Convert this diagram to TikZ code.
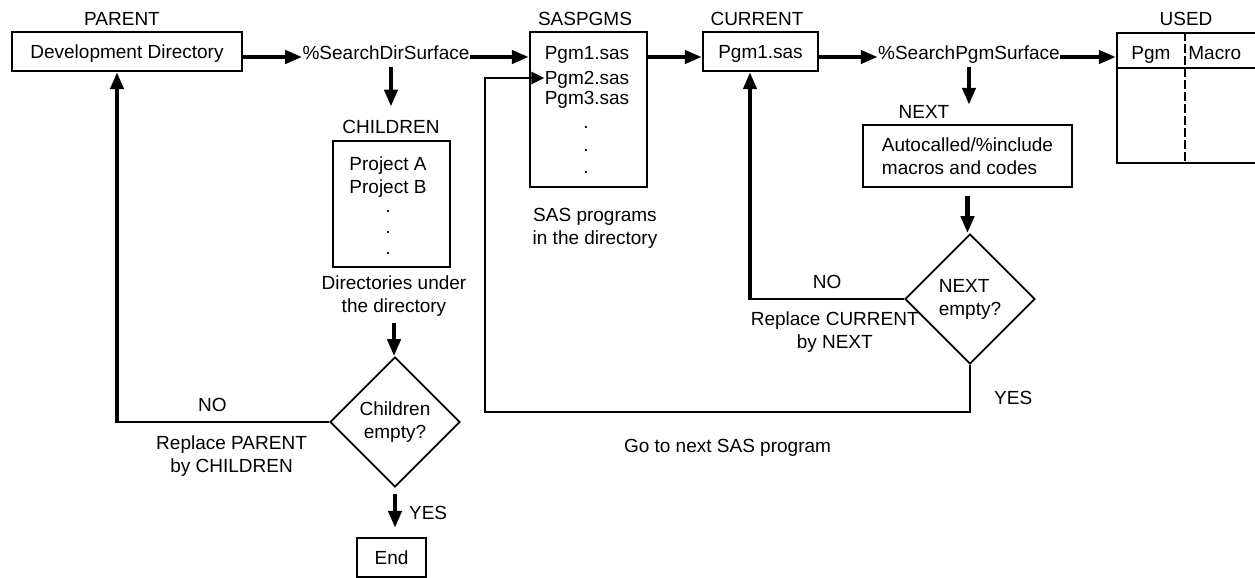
\documentclass[tikz,border=0pt]{standalone}
\usepackage{fontspec}
\setmainfont{Liberation Sans}
\usetikzlibrary{arrows.meta,shapes.geometric}

\begin{document}
\begin{tikzpicture}[
  x=0.5pt, y=-0.5pt,
  font=\fontsize{9.5pt}{11.5pt}\selectfont,
  >={Triangle[length=8.5pt,width=6.5pt]},
  box/.style={draw, line width=1.15pt, inner sep=0pt, minimum height=19.5pt, align=center},
  onerow/.style={text height=6.8pt, text depth=0pt},
  lbl/.style={inner sep=0pt, onerow},
  txt/.style={inner sep=0pt, align=center},
  dot/.style={inner sep=0pt, text height=1pt, text depth=0pt},
  decision/.style={draw, diamond, aspect=1, line width=0.85pt, inner sep=0pt, minimum size=65pt, align=center},
  arr/.style={->, line width=2.1pt},
  lnk/.style={line width=1.15pt},
  back/.style={lnk, -{Triangle[length=6.5pt,width=6pt]}}
]
\useasboundingbox (0,0) rectangle (1255,578);

% directory level
\node[lbl] (parentlbl) at (122,19) {PARENT};
\node[box, onerow, minimum width=115pt] (parent) at (127,51.5) {Development Directory};
\node[lbl] (dirsurf) at (386,53) {\%SearchDirSurface};
\node[lbl] (kidslbl) at (391,127) {CHILDREN};
\node[box, minimum width=58.5pt, minimum height=63pt] (kids) at (391.5,204) {};
\node[lbl] (proja) at (388,164) {Project A};
\node[lbl] (projb) at (388,187) {Project B};
\foreach \y in {211,232,253} \node[dot] (kidsdot\y) at (388,\y) {.};
\node[txt] (kidsnote) at (394,296) {Directories under\\the directory};
\node[decision] (kidsq) at (395,422) {Children\\empty?};
\node[box, onerow, minimum width=34.5pt] (finish) at (391.5,557.5) {End};
\coordinate (kidscorner) at (117,422);

% program level
\node[lbl] (saslbl) at (585,19) {SASPGMS};
\node[box, minimum width=58.5pt, minimum height=77.5pt] (sasbox) at (588.5,109.5) {};
\node[lbl] (pgmone) at (587,53) {Pgm1.sas};
\node[lbl] (pgmtwo) at (587,78) {Pgm2.sas};
\node[lbl] (pgmthree) at (587,98) {Pgm3.sas};
\foreach \y in {127,150,172} \node[dot] (sasdot\y) at (586,\y) {.};
\node[txt] (sasnote) at (595,228) {SAS programs\\in the directory};
\node[lbl] (curlbl) at (757,19) {CURRENT};
\node[box, onerow, minimum width=57.5pt] (current) at (760.5,51.5) {Pgm1.sas};
\node[lbl] (pgmsurf) at (969,53) {\%SearchPgmSurface};
\node[lbl] (nextlbl) at (924,112) {NEXT};
\node[box, minimum width=104.5pt, minimum height=31pt, align=left] (nextbox) at (967.5,156) {Autocalled/\%include\\macros and codes};
\node[decision, align=left] (nextq) at (970,299) {NEXT\\empty?};
\coordinate (nextcorner) at (750,299);
\coordinate (loopcorner) at (485,412);

% result table
\node[lbl] (usedlbl) at (1186,19) {USED};
\node[draw, line width=1.15pt, inner sep=0pt, minimum width=72.5pt, minimum height=65pt] (used) at (1189.5,98) {};
\draw[lnk] ([yshift=-18pt]used.north west) -- ([yshift=-18pt]used.north east);
\draw[lnk, dash pattern=on 4.5pt off 1.5pt] ([xshift=34.5pt]used.north west) -- ([xshift=34.5pt, yshift=1.5pt]used.south west);
\node[lbl] (pgmcol) at (1151,53) {Pgm};
\node[lbl, anchor=west] (maccol) at (1188,53) {Macro};

% main flow
\draw[arr] ([yshift=-2.75pt]parent.east) -- ([yshift=-2.75pt]parent.east -| dirsurf.west);
\draw[arr] ([yshift=-2pt]dirsurf.east) -- ([yshift=-2pt]dirsurf.east -| sasbox.west);
\draw[arr, shorten <=3.5pt, shorten >=6.6pt] (kidslbl.north |- dirsurf.south) -- (kidslbl.north);
\draw[arr, shorten <=3pt] (kidsnote.south) -- (kidsnote.south |- kidsq.north);
\draw[arr, shorten <=3pt, shorten >=4.5pt] (kidsq.south) -- node[lbl, right=6pt] (kidsyes) {YES} (kidsq.south |- finish.north);
\draw[arr] ([yshift=-2.75pt]sasbox.east |- current.east) -- ([yshift=-2.75pt]current.west);
\draw[arr] ([yshift=-2.75pt]current.east) -- ([yshift=-2.75pt]current.east -| pgmsurf.west);
\draw[arr] ([yshift=-2pt]pgmsurf.east) -- ([yshift=-2pt]pgmsurf.east -| used.west);
\draw[arr, shorten <=3.5pt] (pgmsurf.south) -- (pgmsurf.south |- nextlbl.north);
\draw[arr, shorten <=4pt] (nextbox.south) -- (nextbox.south |- nextq.north);

% loops
\draw[lnk] (kidsq.west) -- node[lbl, pos=0.55, above=4.5pt] (kidsno) {NO} node[txt, pos=0.46, below=6.5pt] (kidsdo) {Replace PARENT\\by CHILDREN} (kidsq.west -| kidscorner);
\draw[arr, shorten <=-0.6pt] (kidscorner) -- (kidscorner |- parent.south);
\draw[lnk] (nextq.west) -- node[lbl, pos=0.5, above=4.5pt] (nextno) {NO} node[txt, pos=0.45, below=6pt] (nextdo) {Replace CURRENT\\by NEXT} (nextq.west -| nextcorner);
\draw[arr, shorten <=-0.6pt] (nextcorner) -- (nextcorner |- current.south);
\draw[back] (nextq.south) |- node[lbl, pos=0.35, right=11.5pt] (nextyes) {YES} node[lbl, pos=0.75, below=13pt] (gonext) {Go to next SAS program} (loopcorner) |- (pgmtwo.west);
\end{tikzpicture}
\end{document}
